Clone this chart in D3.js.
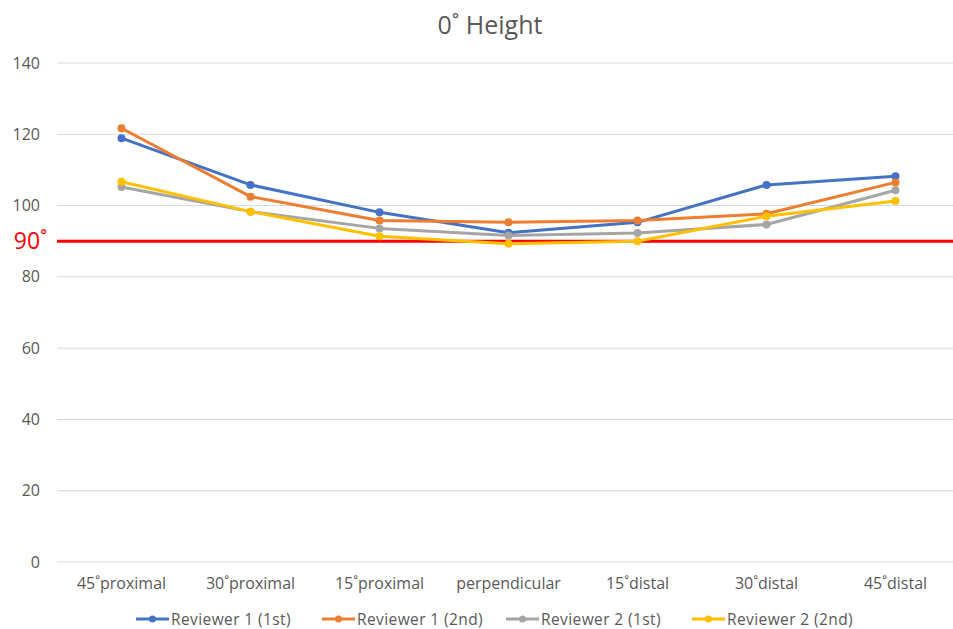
<!DOCTYPE html>
<html>
<head>
<meta charset="utf-8">
<script src="https://cdn.jsdelivr.net/npm/d3@7"></script>
<style>
  html, body { margin: 0; padding: 0; background: #fff; }
  svg { display: block; font-family: "Open Sans", "Noto Sans", sans-serif; }
</style>
</head>
<body>
<svg id="chart" width="953" height="629"></svg>
<script>
// Categories along the x axis
const categories = ["45˚proximal", "30˚proximal", "15˚proximal", "perpendicular", "15˚distal", "30˚distal", "45˚distal"];

// Series values
const reviewer1First  = [118.9, 105.8, 98.1, 92.4, 95.3, 105.8, 108.2];
const reviewer1Second = [121.7, 102.5, 95.8, 95.3, 95.8, 97.7, 106.5];
const reviewer2First  = [105.2, 98.3, 93.6, 91.6, 92.3, 94.7, 104.3];
const reviewer2Second = [106.7, 98.3, 91.4, 89.3, 90.0, 97.0, 101.3];

const seriesNames = ["Reviewer 1 (1st)", "Reviewer 1 (2nd)", "Reviewer 2 (1st)", "Reviewer 2 (2nd)"];
const seriesColors = ["#4472C4", "#ED7D31", "#A5A5A5", "#FFC000"];

// Y axis ticks and the reference level
const yTicks = [0, 20, 40, 60, 80, 100, 120, 140];
const referenceValue = 90;
const referenceLabel = "90˚";
const titleText = "0˚ Height";

const series = [reviewer1First, reviewer1Second, reviewer2First, reviewer2Second].map((values, i) => ({
  name: seriesNames[i], color: seriesColors[i], values
}));

const svg = d3.select("#chart");
const textColor = "#595959";
const fontStack = "\"Open Sans\", \"Noto Sans\", sans-serif";

const x = d3.scaleBand().domain(categories).range([57, 960]);
const y = d3.scaleLinear().domain([0, 140]).range([562, 63]);
const cx = d => x(d) + x.bandwidth() / 2;

// Title
svg.append("text")
  .attr("x", 490).attr("y", 34)
  .attr("text-anchor", "middle")
  .attr("font-size", 25)
  .attr("fill", textColor)
  .text(titleText);

// Horizontal gridlines
svg.append("g")
  .selectAll("line")
  .data(yTicks)
  .join("line")
  .attr("x1", 57).attr("x2", 953)
  .attr("y1", d => y(d)).attr("y2", d => y(d))
  .attr("stroke", "#d9d9d9")
  .attr("stroke-width", 1);

// Y axis labels
const yAxis = d3.axisLeft(y).tickValues(yTicks).tickSize(0).tickPadding(0);
const yg = svg.append("g").attr("transform", "translate(40,0)").call(yAxis);
yg.select(".domain").remove();
yg.selectAll("text")
  .attr("font-size", 16)
  .attr("fill", textColor)
  .attr("font-family", fontStack);

// X axis labels
const xAxis = d3.axisBottom(x).tickSize(0).tickPadding(0);
const xg = svg.append("g").attr("transform", "translate(0,578)").call(xAxis);
xg.select(".domain").remove();
xg.selectAll("text")
  .attr("font-size", 16)
  .attr("fill", textColor)
  .attr("font-family", fontStack);

// Reference line at 90
svg.append("line")
  .attr("x1", 57).attr("x2", 953)
  .attr("y1", y(referenceValue)).attr("y2", y(referenceValue))
  .attr("stroke", "#ff0000")
  .attr("stroke-width", 3);
svg.append("text")
  .attr("x", 47).attr("y", y(referenceValue) + 8)
  .attr("text-anchor", "end")
  .attr("font-size", 23)
  .attr("fill", "#ff0000")
  .text(referenceLabel);

// Series lines and markers
const line = d3.line().x((d, i) => cx(categories[i])).y(d => y(d));
const sg = svg.append("g").selectAll("g").data(series).join("g");
sg.append("path")
  .attr("d", d => line(d.values))
  .attr("fill", "none")
  .attr("stroke", d => d.color)
  .attr("stroke-width", 3)
  .attr("stroke-linejoin", "round");
sg.selectAll("circle")
  .data(d => d.values.map((v, i) => ({ v, i, color: d.color })))
  .join("circle")
  .attr("cx", d => cx(categories[d.i]))
  .attr("cy", d => y(d.v))
  .attr("r", 4)
  .attr("fill", d => d.color);

// Legend
const legendX = [136, 322, 506, 692];
const lg = svg.append("g").selectAll("g").data(series).join("g")
  .attr("transform", (d, i) => `translate(${legendX[i]},619)`);
lg.append("line")
  .attr("x1", 0).attr("x2", 33)
  .attr("stroke", d => d.color).attr("stroke-width", 3);
lg.append("circle")
  .attr("cx", 16.5).attr("r", 3.5)
  .attr("fill", d => d.color);
lg.append("text")
  .attr("x", 35).attr("y", 5.5)
  .attr("font-size", 15.5)
  .attr("letter-spacing", 0.4)
  .attr("fill", textColor)
  .attr("font-family", fontStack)
  .text(d => d.name);
</script>
</body>
</html>
